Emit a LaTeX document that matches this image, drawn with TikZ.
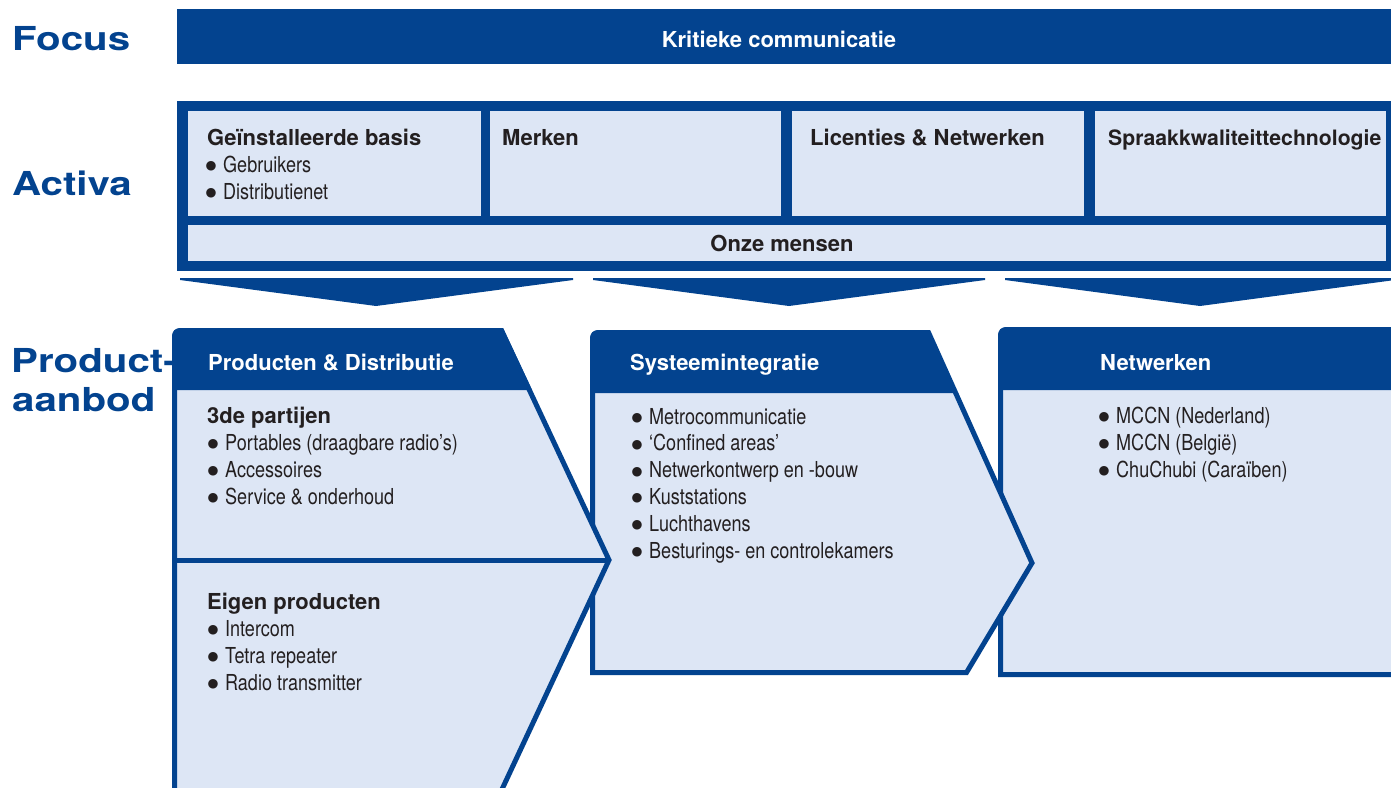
\documentclass[tikz,border=0pt]{standalone}
\usepackage{fontspec}
\setmainfont{TeX Gyre Heros}
\newfontfamily\smalfont[FakeStretch=0.82]{TeX Gyre Heros}
\newfontfamily\breedfont[FakeStretch=1.22]{TeX Gyre Heros}
\newfontfamily\tekenfont{DejaVu Sans}
\definecolor{donkerblauw}{RGB}{3,67,143}
\definecolor{lichtblauw}{RGB}{221,230,245}
\definecolor{tekst}{RGB}{35,31,32}
\newcommand{\bol}{\makebox[16pt][l]{\hspace{-1.5pt}\raisebox{2.6pt}{\tekenfont\fontsize{12.5}{13}\selectfont ●}}}
\tikzset{
	kop/.style={font=\bfseries\fontsize{22}{26}\selectfont, text=tekst, inner sep=0pt, anchor=base west},
	witkop/.style={kop, text=white},
	punt/.style={font=\smalfont\fontsize{22}{26}\selectfont, text=tekst, inner sep=0pt, anchor=base west},
	zijkop/.style={font=\breedfont\bfseries\fontsize{33}{39}\selectfont, text=donkerblauw, inner sep=0pt, anchor=base west},
	kader/.style={draw=donkerblauw, line width=5pt, fill=lichtblauw},
}
\begin{document}
\begin{tikzpicture}[x=1pt, y=-1pt]
	\path[use as bounding box, fill=white] (0,0) rectangle (1391,787);
	\clip (0,0) rectangle (1391,787);
	% Zijkoppen
	\node[zijkop] (focus) at (12,50) {Focus};
	\node[zijkop] (activa) at (12,195) {Activa};
	\node[zijkop] (product) at (11,372) {Product-};
	\node[zijkop] (aanbod) at (12,411) {aanbod};
	% Focus
	\fill[donkerblauw] (177,9) rectangle (1400,64);
	\node[witkop, anchor=base] (kritiek) at (779,47) {Kritieke communicatie};
	% Activa
	\fill[donkerblauw] (177,101) rectangle (1400,271);
	\foreach \xl/\xr in {188/481, 490/781, 792/1084, 1095/1386}
		\fill[lichtblauw] (\xl,111) rectangle (\xr,216);
	\fill[lichtblauw] (188,225) rectangle (1386,261);
	\node[kop] (basis) at (207,145) {Geïnstalleerde basis};
	\foreach \regel [count=\i] in {Gebruikers, Distributienet}
		\node[punt] (basis-\i) at (207,145+27*\i) {\bol\regel};
	\node[kop] (merken) at (502,145) {Merken};
	\node[kop] (licenties) at (810,145) {Licenties \& Netwerken};
	\node[kop] (spraak) at (1108,145) {\fontsize{21.2}{26}\selectfont Spraakkwaliteittechnologie};
	\node[kop, anchor=base] (mensen) at (782,251) {Onze mensen};
	% Pijlen naar beneden
	\foreach \xl/\xm/\xr in {180/376/573, 593/789/985, 1005/1200/1395}
		\fill[donkerblauw] (\xl,278) -- (\xr,278) -- (\xr,280) -- (\xm,306) -- (\xl,280) -- cycle;
	% Netwerken
	\filldraw[kader] (1000.5,674.5) -- (1000.5,335) arc[start angle=180, end angle=270, radius=5.5]
		-- (1400,329.5) -- (1400,674.5) -- cycle;
	\fill[donkerblauw] (998,390) -- (998,335) arc[start angle=180, end angle=270, radius=8]
		-- (1400,327) -- (1400,390) -- cycle;
	\node[witkop] (nw-kop) at (1100,370) {Netwerken};
	\foreach \regel [count=\i] in {MCCN (Nederland), MCCN (België), ChuChubi (Caraïben)}
		\node[punt] (nw-\i) at (1100,396+27*\i) {\bol\regel};
	% Systeemintegratie
	\filldraw[kader] (592.5,672.5) -- (592.5,338) arc[start angle=180, end angle=270, radius=5.5]
		-- (928.5,332.5) -- (1032,563) -- (966.5,672.5) -- cycle;
	\fill[donkerblauw] (590,393) -- (590,338) arc[start angle=180, end angle=270, radius=8]
		-- (927,330) -- (954,393) -- cycle;
	\node[witkop] (si-kop) at (630,370) {Systeemintegratie};
	\foreach \regel [count=\i] in {Metrocommunicatie, ‘Confined areas’, Netwerkontwerp en -bouw,
		Kuststations, Luchthavens, Besturings- en controlekamers}
		\node[punt] (si-\i) at (633,397.2+26.8*\i) {\bol\regel};
	% Producten & Distributie
	\filldraw[kader] (174.5,800) -- (174.5,336) arc[start angle=180, end angle=270, radius=5.5]
		-- (501.5,330.5) -- (609,560) -- (497,800) -- cycle;
	\fill[donkerblauw] (172,390) -- (172,336) arc[start angle=180, end angle=270, radius=8]
		-- (503,328) -- (532,390) -- cycle;
	\draw[donkerblauw, line width=5pt] (174.5,560) -- (609,560);
	\node[witkop] (pd-kop) at (208,370) {Producten \& Distributie};
	\node[kop] (derden) at (207,423) {3de partijen};
	\foreach \regel [count=\i] in {Portables (draagbare radio’s), Accessoires, Service \& onderhoud}
		\node[punt] (derden-\i) at (209,423+27*\i) {\bol\regel};
	\node[kop] (eigen) at (207,609) {Eigen producten};
	\foreach \regel [count=\i] in {Intercom, Tetra repeater, Radio transmitter}
		\node[punt] (eigen-\i) at (209,609+27*\i) {\bol\regel};
\end{tikzpicture}
\end{document}
